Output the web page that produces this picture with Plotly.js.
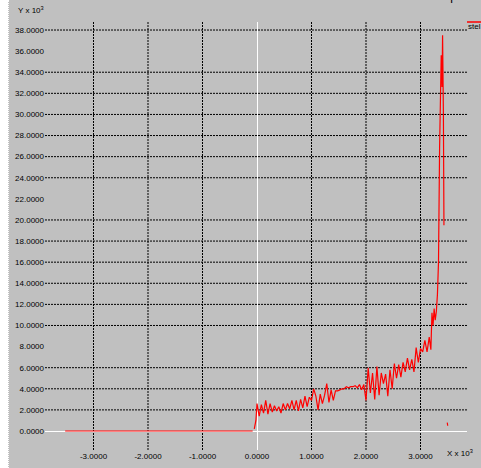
<!DOCTYPE html>
<html>
<head>
<meta charset="utf-8">
<script src="https://cdn.plot.ly/plotly-3.0.1.min.js"></script>
<style>
  html, body { margin: 0; padding: 0; background: #ffffff; width: 481px; height: 468px; overflow: hidden; }
  #plot { position: absolute; left: 8px; top: 0; width: 473px; height: 468px; }
  #edge { position: absolute; left: 8px; top: 0; width: 0; height: 468px; border-left: 1px dotted #ffffff; z-index: 5; }
</style>
</head>
<body>
<div id="plot"></div>
<div id="edge"></div>
<script>
// ---- data ----
const baseX = [-3.52, -0.08];
const baseY = [0, 0];

const sigX = [-0.05, -0.02, 0.00, 0.04, 0.08, 0.12, 0.16, 0.20, 0.24, 0.28, 0.32, 0.36, 0.40, 0.44, 0.48,
  0.52, 0.56, 0.60, 0.64, 0.68, 0.72, 0.76, 0.80, 0.84, 0.88, 0.92, 0.96, 1.00, 1.04, 1.08,
  1.12, 1.16, 1.20, 1.24, 1.28, 1.32, 1.36, 1.40, 1.44, 1.48, 1.52, 1.56, 1.60, 1.64, 1.68,
  1.72, 1.76, 1.80, 1.84, 1.88, 1.92, 1.96, 2.00, 2.04, 2.08, 2.12, 2.16, 2.20, 2.24, 2.28,
  2.32, 2.36, 2.40, 2.44, 2.48, 2.52, 2.56, 2.60, 2.64, 2.68, 2.72, 2.76, 2.80, 2.84, 2.88,
  2.92, 2.96, 3.00, 3.04, 3.08, 3.12, 3.16, 3.19, 3.21, 3.23, 3.25, 3.27, 3.29, 3.31,
  3.33, 3.35, 3.38, 3.395, 3.405, 3.42, 3.43, 3.46, 3.49, 3.50];
const sigY = [0.2, 1.0, 2.6, 1.4, 2.5, 1.7, 2.9, 1.6, 2.6, 1.8, 2.4, 1.9, 2.3, 1.7, 2.6,
  2.0, 2.6, 2.1, 2.9, 2.0, 2.9, 1.9, 3.0, 2.2, 3.3, 2.3, 3.2, 2.9, 4.0, 3.3,
  2.0, 3.5, 2.6, 3.4, 4.5, 2.7, 3.9, 2.9, 3.8, 3.8, 3.9, 4.0, 4.0, 4.2, 4.1,
  4.2, 4.2, 4.3, 4.1, 4.4, 3.9, 4.4, 2.9, 6.0, 3.6, 5.5, 3.0, 6.1, 3.4, 5.5,
  4.5, 5.4, 3.3, 5.8, 4.0, 6.4, 5.0, 6.3, 5.1, 6.5, 5.6, 6.9, 5.8, 6.8, 5.6,
  7.9, 6.5, 7.8, 7.5, 8.6, 7.5, 8.9, 7.7, 11.2, 10.0, 11.6, 10.5, 11.3, 12.9,
  16.0, 26.8, 35.6, 32.6, 37.5, 30.0, 19.5, null, 0.8, 0.5];

const xTickVals = [-3, -2, -1, 0, 1, 2, 3];
const xTickText = ["-3.0000", "-2.0000", "-1.0000", "0.0000", "1.0000", "2.0000", "3.0000"];
const yTickVals = [0, 2, 4, 6, 8, 10, 12, 14, 16, 18, 20, 22, 24, 26, 28, 30, 32, 34, 36, 38];
const yTickText = ["0.0000", "2.0000", "4.0000", "6.0000", "8.0000", "10.0000", "12.0000", "14.0000",
  "16.0000", "18.0000", "20.0000", "22.0000", "24.0000", "26.0000", "28.0000", "30.0000",
  "32.0000", "34.0000", "36.0000", "38.0000"];
const gridX = [-3, -2, -1, 1, 2, 3];
const gridY = [2, 4, 6, 10, 12, 14, 16, 18, 20, 24, 26, 28, 30, 32, 34, 38];

const seriesName = "stel";
const titleText = "XY Graph";
const yUnitText = "Y x 10<sup>3</sup>";
const xUnitText = "X x 10<sup>3</sup>";

// ---- chart ----
const red = "#ff0000";
const grey = "#c0c0c0";
const fnt = { family: "Liberation Sans, Arial, sans-serif", size: 8, color: "#000000" };

const shapes = [];
gridY.forEach(v => shapes.push({
  type: "line", xref: "paper", x0: 0, x1: 1, yref: "y", y0: v, y1: v, layer: "below",
  line: { color: "#000000", width: 1, dash: "2px,1px" }
}));
gridX.forEach(v => shapes.push({
  type: "line", yref: "paper", y0: 0, y1: 1, xref: "x", x0: v, x1: v, layer: "below",
  line: { color: "#000000", width: 1, dash: "2px,1px" }
}));
// legend sample line
shapes.push({ type: "line", xref: "paper", yref: "paper", x0: 1.0, x1: 1.04, y0: 1.0, y1: 1.0,
  line: { color: red, width: 1.5 } });

const traces = [
  { x: baseX, y: baseY, type: "scatter", mode: "lines", line: { color: red, width: 1.2 },
    hoverinfo: "skip", showlegend: false },
  { x: sigX, y: sigY, type: "scatter", mode: "lines", connectgaps: false,
    line: { color: red, width: 1.2 }, name: seriesName, showlegend: false }
];

const layout = {
  width: 473, height: 468,
  margin: { l: 37, r: 14, t: 22, b: 18, pad: 0 },
  paper_bgcolor: grey, plot_bgcolor: grey,
  font: fnt,
  showlegend: false,
  xaxis: {
    range: [-3.89, 3.853], tickmode: "array", tickvals: xTickVals, ticktext: xTickText,
    showgrid: false, zeroline: true, zerolinecolor: "#ffffff", zerolinewidth: 1,
    showline: false, ticks: "", tickfont: fnt, fixedrange: true
  },
  yaxis: {
    range: [-1.8, 38.76], tickmode: "array", tickvals: yTickVals, ticktext: yTickText,
    showgrid: false, zeroline: true, zerolinecolor: "#ffffff", zerolinewidth: 1,
    showline: false, ticks: "", tickfont: fnt, fixedrange: true
  },
  shapes: shapes,
  annotations: [
    { text: yUnitText, xref: "paper", yref: "paper", x: -0.068, y: 1.028, xanchor: "left",
      yanchor: "middle", showarrow: false, font: fnt },
    { text: xUnitText, xref: "paper", yref: "paper", x: 0.948, y: -0.006, xanchor: "left",
      yanchor: "middle", showarrow: false, font: fnt },
    { text: seriesName, xref: "paper", yref: "paper", x: 0.998, y: 0.989, xanchor: "left",
      yanchor: "middle", showarrow: false, font: fnt },
    { text: titleText, xref: "paper", yref: "paper", x: 0.995, y: 1.04, xanchor: "right",
      yanchor: "bottom", showarrow: false, font: { family: "Liberation Sans, Arial, sans-serif", size: 12, color: "#000000" } }
  ]
};

Plotly.newPlot("plot", traces, layout, { staticPlot: true, displayModeBar: false });
</script>
</body>
</html>
